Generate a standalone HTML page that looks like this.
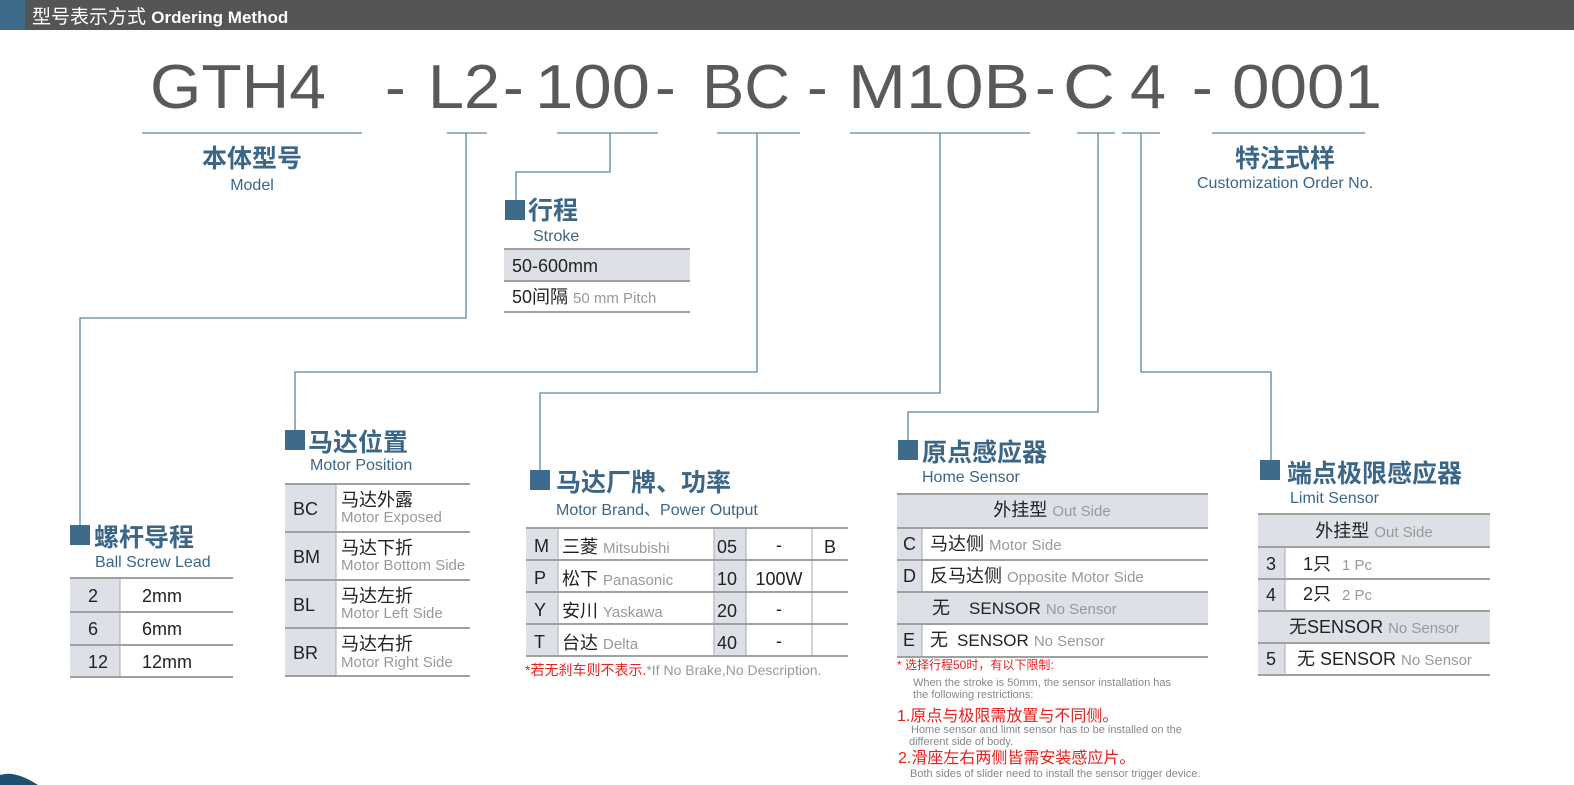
<!DOCTYPE html>
<html><head><meta charset="utf-8"><style>
html,body{margin:0;padding:0;background:#fff;width:1574px;height:785px;overflow:hidden}
svg{display:block}
text{font-family:"Liberation Sans","Noto Sans CJK SC",sans-serif}
.cn{font-family:"Liberation Sans","Noto Sans CJK SC",sans-serif}
.big{font-size:62px;fill:#58595b}
.t{font-size:25px;font-weight:bold;fill:#3b6688}
.st{font-size:16px;fill:#3b6688}
.d{font-size:18px;fill:#222}
.e{font-size:15px;fill:#999}
.g{fill:#dde0e7}
.ln{stroke:#a0a0a0;stroke-width:2}
.cl{stroke:#5b86a6;stroke-width:1.3;fill:none}
.red{fill:#e8201c}
.n{font-size:11px;fill:#888}
</style></head><body>
<svg width="1574" height="785" viewBox="0 0 1574 785">
<rect x="0" y="0" width="1574" height="30" fill="#545557"/>
<rect x="0" y="0" width="25" height="30" fill="#3e6a8b"/>
<text x="32" y="23" font-size="19" fill="#fff">型号表示方式 <tspan font-weight="bold" font-size="17">Ordering Method</tspan></text>

<g class="big">
<text x="150" y="108" textLength="176" lengthAdjust="spacingAndGlyphs">GTH4</text>
<text x="385" y="108">-</text>
<text x="428" y="108" textLength="72" lengthAdjust="spacingAndGlyphs">L2</text>
<text x="503" y="108">-</text>
<text x="535" y="108" textLength="115" lengthAdjust="spacingAndGlyphs">100</text>
<text x="655" y="108">-</text>
<text x="702" y="108" textLength="88" lengthAdjust="spacingAndGlyphs">BC</text>
<text x="807" y="108">-</text>
<text x="848" y="108" textLength="182" lengthAdjust="spacingAndGlyphs">M10B</text>
<text x="1035" y="108">-</text>
<text x="1063" y="108" textLength="52" lengthAdjust="spacingAndGlyphs">C</text>
<text x="1130" y="108" textLength="36" lengthAdjust="spacingAndGlyphs">4</text>
<text x="1192" y="108">-</text>
<text x="1232" y="108" textLength="150" lengthAdjust="spacingAndGlyphs">0001</text>
</g>

<g stroke="#5b86a6" stroke-width="1.3">
<line x1="142" y1="133" x2="362" y2="133"/><line x1="447" y1="133" x2="487" y2="133"/>
<line x1="557" y1="133" x2="658" y2="133"/><line x1="717" y1="133" x2="800" y2="133"/>
<line x1="850" y1="133" x2="1030" y2="133"/><line x1="1077" y1="133" x2="1115" y2="133"/>
<line x1="1122" y1="133" x2="1160" y2="133"/><line x1="1212" y1="133" x2="1365" y2="133"/>
</g>
<path class="cl" d="M466 133V318H80V525"/>
<path class="cl" d="M610 133V172H516V200"/>
<path class="cl" d="M757 133V372H295V430"/>
<path class="cl" d="M940 133V393H540V470"/>
<path class="cl" d="M1098 133V412H908V440"/>
<path class="cl" d="M1141 133V372H1271V460"/>

<text class="t" x="252" y="167" text-anchor="middle">本体型号</text>
<text class="st" x="252" y="190" text-anchor="middle">Model</text>
<text class="t" x="1285" y="167" text-anchor="middle">特注式样</text>
<text class="st" x="1285" y="188" text-anchor="middle">Customization Order No.</text>

<!-- stroke -->
<rect x="505" y="200" width="20" height="20" fill="#3e6a8b"/>
<text class="t" x="528" y="219">行程</text>
<text class="st" x="533" y="241">Stroke</text>
<rect class="g" x="504" y="249" width="186" height="31"/>
<line class="ln" x1="504" y1="249" x2="690" y2="249"/>
<line class="ln" x1="504" y1="281" x2="690" y2="281" stroke-width="1"/>
<line class="ln" x1="504" y1="312" x2="690" y2="312"/>
<text class="d" x="512" y="272">50-600mm</text>
<text class="d" x="512" y="303">50间隔 <tspan class="e" font-size="15">50 mm Pitch</tspan></text>

<!-- ball screw -->
<rect x="70" y="525" width="20" height="20" fill="#3e6a8b"/>
<text class="t" x="94" y="546" font-size="26">螺杆导程</text>
<text class="st" x="95" y="567">Ball Screw Lead</text>
<rect class="g" x="70" y="578" width="50" height="99"/>
<line x1="120" y1="578" x2="120" y2="677" stroke="#aaa"/>
<line class="ln" x1="70" y1="578" x2="233" y2="578"/>
<line class="ln" x1="70" y1="612" x2="233" y2="612"/>
<line class="ln" x1="70" y1="645" x2="233" y2="645"/>
<line class="ln" x1="70" y1="677" x2="233" y2="677"/>
<text class="d" x="88" y="602">2</text><text class="d" x="142" y="602">2mm</text>
<text class="d" x="88" y="635">6</text><text class="d" x="142" y="635">6mm</text>
<text class="d" x="88" y="668">12</text><text class="d" x="142" y="668">12mm</text>

<!-- motor position -->
<rect x="285" y="430" width="20" height="20" fill="#3e6a8b"/>
<text class="t" x="308" y="451" font-size="26">马达位置</text>
<text class="st" x="310" y="470">Motor Position</text>
<rect class="g" x="285" y="484" width="51" height="192"/>
<line x1="336" y1="484" x2="336" y2="676" stroke="#aaa"/>
<g class="ln"><line x1="285" y1="484" x2="470" y2="484"/><line x1="285" y1="532" x2="470" y2="532"/><line x1="285" y1="580" x2="470" y2="580"/><line x1="285" y1="628" x2="470" y2="628"/><line x1="285" y1="676" x2="470" y2="676"/></g>
<text class="d" x="293" y="515">BC</text><text class="d" x="341" y="506">马达外露</text><text class="e" x="341" y="522">Motor Exposed</text>
<text class="d" x="293" y="563">BM</text><text class="d" x="341" y="554">马达下折</text><text class="e" x="341" y="570">Motor Bottom Side</text>
<text class="d" x="293" y="611">BL</text><text class="d" x="341" y="602">马达左折</text><text class="e" x="341" y="618">Motor Left Side</text>
<text class="d" x="293" y="659">BR</text><text class="d" x="341" y="650">马达右折</text><text class="e" x="341" y="667">Motor Right Side</text>

<!-- motor brand -->
<rect x="530" y="470" width="20" height="20" fill="#3e6a8b"/>
<text class="t" x="556" y="491">马达厂牌、功率</text>
<text class="st" x="556" y="515">Motor Brand、Power Output</text>
<rect class="g" x="526" y="528" width="32" height="128"/>
<rect class="g" x="714" y="528" width="32" height="128"/>
<g stroke="#aaa"><line x1="558" y1="528" x2="558" y2="656"/><line x1="714" y1="528" x2="714" y2="656"/><line x1="746" y1="528" x2="746" y2="656"/><line x1="812" y1="528" x2="812" y2="656"/></g>
<g class="ln"><line x1="526" y1="528" x2="848" y2="528"/><line x1="526" y1="560" x2="848" y2="560"/><line x1="526" y1="592" x2="848" y2="592"/><line x1="526" y1="624" x2="848" y2="624"/><line x1="526" y1="656" x2="848" y2="656"/></g>
<text class="d" x="534" y="552">M</text><text class="d" x="562" y="553" font-size="20">三菱 <tspan class="e" font-size="15">Mitsubishi</tspan></text>
<text class="d" x="534" y="584">P</text><text class="d" x="562" y="585" font-size="20">松下 <tspan class="e" font-size="15">Panasonic</tspan></text>
<text class="d" x="534" y="616">Y</text><text class="d" x="562" y="617" font-size="20">安川 <tspan class="e" font-size="15">Yaskawa</tspan></text>
<text class="d" x="534" y="648">T</text><text class="d" x="562" y="649" font-size="20">台达 <tspan class="e" font-size="15">Delta</tspan></text>
<text class="d" x="717" y="553" font-size="20">05</text><text class="d" x="717" y="585" font-size="20">10</text><text class="d" x="717" y="617" font-size="20">20</text><text class="d" x="717" y="649" font-size="20">40</text>
<text class="d" x="779" y="551" text-anchor="middle">-</text><text class="d" x="779" y="585" font-size="20" text-anchor="middle">100W</text><text class="d" x="779" y="615" text-anchor="middle">-</text><text class="d" x="779" y="647" text-anchor="middle">-</text>
<text class="d" x="830" y="553" text-anchor="middle">B</text>
<text x="525" y="675" font-size="14"><tspan class="red">*若无刹车则不表示.</tspan><tspan fill="#999">*If No Brake,No Description.</tspan></text>

<!-- home sensor -->
<rect x="898" y="440" width="20" height="20" fill="#3e6a8b"/>
<text class="t" x="922" y="461">原点感应器</text>
<text class="st" x="922" y="482">Home Sensor</text>
<rect class="g" x="897" y="494" width="311" height="34"/>
<rect class="g" x="897" y="528" width="25" height="64"/>
<rect class="g" x="897" y="592" width="311" height="32"/>
<rect class="g" x="897" y="624" width="25" height="33"/>
<g stroke="#aaa"><line x1="922" y1="528" x2="922" y2="592"/><line x1="922" y1="624" x2="922" y2="657"/></g>
<g class="ln"><line x1="897" y1="494" x2="1208" y2="494"/><line x1="897" y1="528" x2="1208" y2="528"/><line x1="897" y1="560" x2="1208" y2="560"/><line x1="897" y1="592" x2="1208" y2="592"/><line x1="897" y1="624" x2="1208" y2="624"/><line x1="897" y1="657" x2="1208" y2="657"/></g>
<text class="d" x="1052" y="516" text-anchor="middle">外挂型 <tspan class="e" font-size="16">Out Side</tspan></text>
<text class="d" x="903" y="550">C</text><text class="d" x="930" y="550">马达侧 <tspan class="e" font-size="16"> Motor Side</tspan></text>
<text class="d" x="903" y="582">D</text><text class="d" x="930" y="582">反马达侧 <tspan class="e" font-size="16">Opposite Motor Side</tspan></text>
<text class="d" x="932" y="614">无 <tspan dx="14" font-size="17">SENSOR</tspan> <tspan class="e" font-size="16">No Sensor</tspan></text>
<text class="d" x="903" y="646">E</text><text class="d" x="930" y="646">无 <tspan dx="4" font-size="17">SENSOR</tspan> <tspan class="e" font-size="16"> No Sensor</tspan></text>
<text class="red" x="897" y="669" font-size="12">* 选择行程50时，有以下限制:</text>
<text class="n" x="913" y="686">When the stroke is 50mm, the sensor installation has</text>
<text class="n" x="913" y="698">the following restrictions:</text>
<text class="red" x="897" y="721" font-size="16">1.原点与极限需放置与不同侧。</text>
<text class="n" x="911" y="733">Home sensor and limit sensor has to be installed on the</text>
<text class="n" x="909" y="745">different side of body.</text>
<text class="red" x="898" y="763" font-size="16">2.滑座左右两侧皆需安装感应片。</text>
<text class="n" x="910" y="777">Both sides of slider need to install the sensor trigger device.</text>

<!-- limit sensor -->
<rect x="1260" y="460" width="20" height="20" fill="#3e6a8b"/>
<text class="t" x="1287" y="482">端点极限感应器</text>
<text class="st" x="1290" y="503">Limit Sensor</text>
<rect class="g" x="1258" y="514" width="232" height="33"/>
<rect class="g" x="1258" y="547" width="27" height="64"/>
<rect class="g" x="1258" y="611" width="232" height="32"/>
<rect class="g" x="1258" y="643" width="27" height="32"/>
<g stroke="#aaa"><line x1="1285" y1="547" x2="1285" y2="611"/><line x1="1285" y1="643" x2="1285" y2="675"/></g>
<g class="ln"><line x1="1258" y1="514" x2="1490" y2="514"/><line x1="1258" y1="547" x2="1490" y2="547"/><line x1="1258" y1="579" x2="1490" y2="579"/><line x1="1258" y1="611" x2="1490" y2="611"/><line x1="1258" y1="643" x2="1490" y2="643"/><line x1="1258" y1="675" x2="1490" y2="675"/></g>
<text class="d" x="1374" y="537" text-anchor="middle">外挂型 <tspan class="e" font-size="16">Out Side</tspan></text>
<text class="d" x="1266" y="570">3</text><text class="d" x="1303" y="570">1只 <tspan class="e" font-size="16" dx="6">1 Pc</tspan></text>
<text class="d" x="1266" y="601">4</text><text class="d" x="1303" y="600">2只 <tspan class="e" font-size="16" dx="6">2 Pc</tspan></text>
<text class="d" x="1374" y="633" text-anchor="middle">无SENSOR <tspan class="e" font-size="16">No Sensor</tspan></text>
<text class="d" x="1266" y="665">5</text><text class="d" x="1297" y="665">无 SENSOR <tspan class="e" font-size="15">No Sensor</tspan></text>

<path d="M0 785V775Q15 770 38 785Z" fill="#1f4f6f"/>
</svg>
</body></html>
